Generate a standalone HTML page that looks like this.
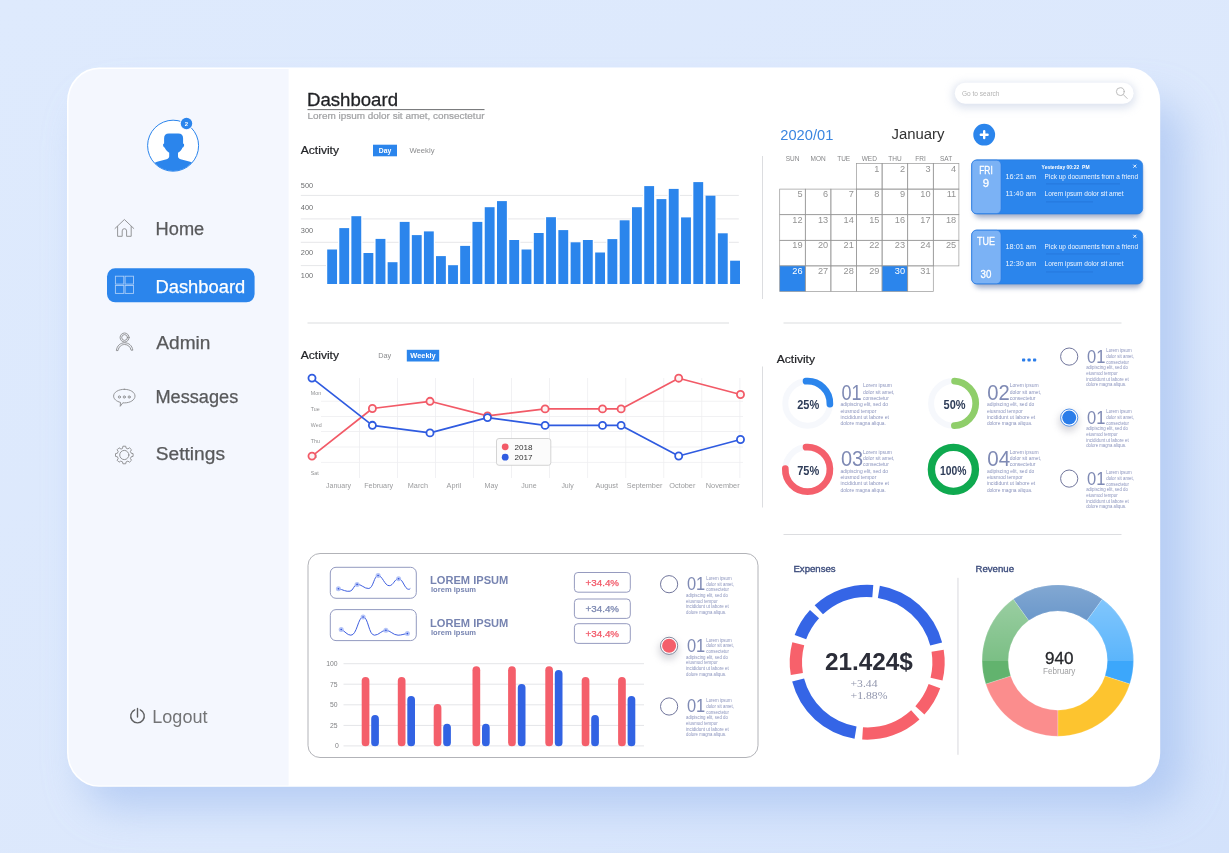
<!DOCTYPE html>
<html><head><meta charset="utf-8"><title>Dashboard</title>
<style>
html,body{margin:0;padding:0;}
body{width:1229px;height:853px;overflow:hidden;background:#dde9fd;font-family:"Liberation Sans",sans-serif;}
svg{position:absolute;left:0;top:0;display:block;will-change:transform;font-family:"Liberation Sans",sans-serif;}
</style></head><body>
<svg width="1229" height="853" viewBox="0 0 1229 853">
<defs>
<linearGradient id="bg" x1="0" y1="0" x2="1" y2="1"><stop offset="0" stop-color="#deeafd"/><stop offset="0.6" stop-color="#dce8fc"/><stop offset="1" stop-color="#d3e2fb"/></linearGradient>
<filter id="pshadow" x="-20%" y="-20%" width="150%" height="150%"><feGaussianBlur stdDeviation="20"/></filter>
<filter id="s1" x="-50%" y="-50%" width="200%" height="200%"><feGaussianBlur stdDeviation="3"/></filter>
<filter id="s1b" x="-50%" y="-100%" width="200%" height="300%"><feGaussianBlur stdDeviation="4.5"/></filter>
<filter id="s2b" x="-50%" y="-50%" width="200%" height="200%"><feGaussianBlur stdDeviation="2.8"/></filter>
<filter id="s1c" x="-100%" y="-100%" width="300%" height="300%"><feGaussianBlur stdDeviation="3.6"/></filter>
<filter id="s2" x="-50%" y="-50%" width="200%" height="200%"><feGaussianBlur stdDeviation="2"/></filter>
<clipPath id="panel"><rect x="68.5" y="69" width="1090.5" height="716.5" rx="31" ry="33"/></clipPath>
<clipPath id="avatar"><circle cx="173.1" cy="145.7" r="25.3"/></clipPath>
<linearGradient id="shade" gradientUnits="userSpaceOnUse" x1="0" y1="584.9" x2="0" y2="736.3"><stop offset="0" stop-color="#fff" stop-opacity="0.4"/><stop offset="0.5" stop-color="#fff" stop-opacity="0.16"/><stop offset="0.5" stop-color="#000" stop-opacity="0"/><stop offset="1" stop-color="#000" stop-opacity="0"/></linearGradient>
</defs>
<rect width="1229" height="853" fill="url(#bg)"/>
<rect x="84" y="102" width="1100" height="706" rx="34" fill="#a3bff0" opacity="0.66" filter="url(#pshadow)"/>
<rect x="67" y="67.5" width="1093.2" height="719.3" rx="32" ry="34" fill="#ffffff"/>
<rect x="67" y="67.5" width="221.6" height="719.5" fill="#f4f7fe" clip-path="url(#panel)"/>

<circle cx="173.1" cy="145.7" r="25.5" fill="#fff" stroke="#2b85ec" stroke-width="1"/>
<g clip-path="url(#avatar)" fill="#2b85ec">
<path d="M168.900 133.400h9.400c3.200 0 4.800 1.800 4.800 5v5.200c0.900 0.100 1.200 1 0.900 2.200c-0.300 1.100-0.800 1.700-1.500 1.800c-0.600 2.200-2.400 4-4.500 5.100v3.600c0 1.600 0.900 2.400 2.600 2.900l9.500 2.600c2.600 0.800 4.300 2 5.500 3.600v12h-44v-12c1.200-1.600 2.900-2.800 5.500-3.600l9.500-2.600c1.700-0.500 2.600-1.300 2.600-2.900v-3.600c-1.700-1.100-3.900-2.900-4.500-5.100c-0.700-0.100-1.200-0.700-1.500-1.800c-0.300-1.200 0-2.100 0.900-2.200v-5.200c0-3.200 1.600-5 4.800-5z"/>
</g>
<circle cx="186.5" cy="123.5" r="6.6" fill="#f4f7fe"/><circle cx="186.5" cy="123.5" r="5.7" fill="#2b85ec"/>
<text x="186.5" y="125.7" font-size="6" fill="#fff" font-weight="700" text-anchor="middle">2</text>
<g fill="none" stroke="#8a8b8d" stroke-width="0.9" stroke-linejoin="round" stroke-linecap="round">
<path d="M115 228.5l9.4-9 9.4 9M117.6 226.5v9.8h4.6v-5.4a2.2 2.2 0 0 1 4.4 0v5.4h4.6v-9.8"/>
<circle cx="124.6" cy="337.5" r="4.5"/><circle cx="124.6" cy="337.5" r="2.9"/>
<path d="M116.4 350.2c0.6-4.6 4-7.4 8.2-7.4s7.6 2.8 8.2 7.4l-1.7 0c-0.7-3.5-3.2-5.7-6.5-5.7s-5.8 2.2-6.5 5.7z"/>
<path d="M124.3 389.3c6 0 10.7 3 10.7 6.8s-4.700 6.800-10.700 6.800c-0.500 0-1 0-1.500-0.100l-2.600 3.500 0.300-3.900c-4-1-6.900-3.400-6.900-6.300 0-3.800 4.700-6.800 10.700-6.800z"/>
<circle cx="119.4" cy="397" r="1.1"/><circle cx="124.3" cy="397" r="1.1"/><circle cx="129.2" cy="397" r="1.1"/>
<path d="M122.52 448.13L122.91 446.21L125.69 446.21L126.08 448.13L127.90 448.88L129.53 447.80L131.50 449.77L130.42 451.40L131.17 453.22L133.09 453.61L133.09 456.39L131.17 456.78L130.42 458.60L131.50 460.23L129.53 462.20L127.90 461.12L126.08 461.87L125.69 463.79L122.91 463.79L122.52 461.87L120.70 461.12L119.07 462.20L117.10 460.23L118.18 458.60L117.43 456.78L115.51 456.39L115.51 453.61L117.43 453.22L118.18 451.40L117.10 449.77L119.07 447.80L120.70 448.88Z"/>
<circle cx="124.3" cy="455" r="4.6"/>
</g>
<rect x="107" y="268.3" width="147.6" height="34" rx="8.2" fill="#2b85ec"/>
<g fill="none" stroke="#a9cdf8" stroke-width="0.9">
<rect x="115.4" y="276.2" width="8.4" height="7.9"/>
<rect x="125.1" y="276.2" width="8.4" height="7.9"/>
<rect x="115.4" y="285.5" width="8.4" height="7.9"/>
<rect x="125.1" y="285.5" width="8.4" height="7.9"/>
</g>
<text x="155.6" y="234.9" font-size="17.6" fill="#58595b" textLength="48.6" lengthAdjust="spacingAndGlyphs" stroke="#58595b" stroke-width="0.25">Home</text>
<text x="155.5" y="292.5" font-size="17.6" fill="#ffffff" textLength="89.7" lengthAdjust="spacingAndGlyphs" stroke="#ffffff" stroke-width="0.25">Dashboard</text>
<text x="156.3" y="348.7" font-size="17.6" fill="#58595b" textLength="54.1" lengthAdjust="spacingAndGlyphs" stroke="#58595b" stroke-width="0.25">Admin</text>
<text x="155.5" y="403.4" font-size="17.6" fill="#58595b" textLength="82.7" lengthAdjust="spacingAndGlyphs" stroke="#58595b" stroke-width="0.25">Messages</text>
<text x="155.8" y="460" font-size="17.6" fill="#58595b" textLength="69.2" lengthAdjust="spacingAndGlyphs" stroke="#58595b" stroke-width="0.25">Settings</text>
<g fill="none" stroke="#5e5f61" stroke-width="1.4" stroke-linecap="round"><path d="M134.700 709.900a6.800 6.800 0 1 0 5.600 0M137.500 708.500v8.600"/></g>
<text x="152.3" y="722.7" font-size="17.5" fill="#737476" textLength="55.2" lengthAdjust="spacingAndGlyphs">Logout</text>
<text x="307" y="105.8" font-size="18.2" fill="#1f2024" textLength="91" lengthAdjust="spacingAndGlyphs" stroke="#1f2024" stroke-width="0.3">Dashboard</text>
<rect x="307.5" y="109.1" width="177" height="1" fill="#6d6e70"/>
<text x="307.5" y="118.9" font-size="9.6" fill="#a0a1a3" textLength="177" lengthAdjust="spacingAndGlyphs" stroke="#a0a1a3" stroke-width="0.2">Lorem ipsum dolor sit amet, consectetur</text>
<rect x="953" y="83" width="182" height="25" rx="11" fill="#b9c6de" opacity="0.5" filter="url(#s1b)"/>
<rect x="954.8" y="82.8" width="178.8" height="20.9" rx="10.45" fill="#fff"/>
<text x="962" y="95.5" font-size="6.3" fill="#b4b4b4" textLength="37.5" lengthAdjust="spacingAndGlyphs">Go to search</text>
<g fill="none" stroke="#b5b5b5" stroke-width="0.9" stroke-linecap="round"><circle cx="1120.3" cy="91.6" r="3.9"/><path d="M1123.2 94.500l4 4"/></g>
<text x="300.8" y="153.8" font-size="10.6" fill="#222327" textLength="38.2" lengthAdjust="spacingAndGlyphs" stroke="#222327" stroke-width="0.2">Activity</text>
<rect x="373" y="144.7" width="24" height="11.6" fill="#2b85ec"/>
<text x="385" y="153" font-size="7" fill="#fff" font-weight="700" text-anchor="middle" textLength="12.5" lengthAdjust="spacingAndGlyphs">Day</text>
<text x="409.5" y="152.8" font-size="7" fill="#8b8c8e" textLength="25" lengthAdjust="spacingAndGlyphs">Weekly</text>
<rect x="300.8" y="194.9" width="438" height="1" fill="#e6e7e9"/>
<rect x="300.8" y="218.4" width="438" height="1" fill="#e6e7e9"/>
<rect x="300.8" y="241.8" width="438" height="1" fill="#e6e7e9"/>
<rect x="300.8" y="265.1" width="438" height="1" fill="#e6e7e9"/>
<text x="300.8" y="187.7" font-size="7" fill="#6d6e70" textLength="12.3" lengthAdjust="spacingAndGlyphs">500</text>
<text x="300.8" y="210.3" font-size="7" fill="#6d6e70" textLength="12.3" lengthAdjust="spacingAndGlyphs">400</text>
<text x="300.8" y="232.8" font-size="7" fill="#6d6e70" textLength="12.3" lengthAdjust="spacingAndGlyphs">300</text>
<text x="300.8" y="255.4" font-size="7" fill="#6d6e70" textLength="12.3" lengthAdjust="spacingAndGlyphs">200</text>
<text x="300.8" y="278" font-size="7" fill="#6d6e70" textLength="12.3" lengthAdjust="spacingAndGlyphs">100</text>
<rect x="326.00" y="249.5" width="12.3" height="34.5" fill="#fff"/><rect x="327.20" y="249.5" width="9.85" height="34.5" fill="#2b85ec"/>
<rect x="338.09" y="228.1" width="12.3" height="55.9" fill="#fff"/><rect x="339.29" y="228.1" width="9.85" height="55.9" fill="#2b85ec"/>
<rect x="350.18" y="216.2" width="12.3" height="67.8" fill="#fff"/><rect x="351.38" y="216.2" width="9.85" height="67.8" fill="#2b85ec"/>
<rect x="362.27" y="253.0" width="12.3" height="31.0" fill="#fff"/><rect x="363.47" y="253.0" width="9.85" height="31.0" fill="#2b85ec"/>
<rect x="374.36" y="238.9" width="12.3" height="45.1" fill="#fff"/><rect x="375.56" y="238.9" width="9.85" height="45.1" fill="#2b85ec"/>
<rect x="386.45" y="262.2" width="12.3" height="21.8" fill="#fff"/><rect x="387.65" y="262.2" width="9.85" height="21.8" fill="#2b85ec"/>
<rect x="398.54" y="221.9" width="12.3" height="62.1" fill="#fff"/><rect x="399.74" y="221.9" width="9.85" height="62.1" fill="#2b85ec"/>
<rect x="410.63" y="235.1" width="12.3" height="48.9" fill="#fff"/><rect x="411.83" y="235.1" width="9.85" height="48.9" fill="#2b85ec"/>
<rect x="422.72" y="231.4" width="12.3" height="52.6" fill="#fff"/><rect x="423.92" y="231.4" width="9.85" height="52.6" fill="#2b85ec"/>
<rect x="434.81" y="256.1" width="12.3" height="27.9" fill="#fff"/><rect x="436.01" y="256.1" width="9.85" height="27.9" fill="#2b85ec"/>
<rect x="446.90" y="265.2" width="12.3" height="18.8" fill="#fff"/><rect x="448.10" y="265.2" width="9.85" height="18.8" fill="#2b85ec"/>
<rect x="458.99" y="245.9" width="12.3" height="38.1" fill="#fff"/><rect x="460.19" y="245.9" width="9.85" height="38.1" fill="#2b85ec"/>
<rect x="471.27" y="221.9" width="12.3" height="62.1" fill="#fff"/><rect x="472.47" y="221.9" width="9.85" height="62.1" fill="#2b85ec"/>
<rect x="483.54" y="207.2" width="12.3" height="76.8" fill="#fff"/><rect x="484.74" y="207.2" width="9.85" height="76.8" fill="#2b85ec"/>
<rect x="495.81" y="201.1" width="12.3" height="82.9" fill="#fff"/><rect x="497.01" y="201.1" width="9.85" height="82.9" fill="#2b85ec"/>
<rect x="508.08" y="240.0" width="12.3" height="44.0" fill="#fff"/><rect x="509.28" y="240.0" width="9.85" height="44.0" fill="#2b85ec"/>
<rect x="520.35" y="249.5" width="12.3" height="34.5" fill="#fff"/><rect x="521.55" y="249.5" width="9.85" height="34.5" fill="#2b85ec"/>
<rect x="532.62" y="233.0" width="12.3" height="51.0" fill="#fff"/><rect x="533.82" y="233.0" width="9.85" height="51.0" fill="#2b85ec"/>
<rect x="544.89" y="217.2" width="12.3" height="66.8" fill="#fff"/><rect x="546.09" y="217.2" width="9.85" height="66.8" fill="#2b85ec"/>
<rect x="557.16" y="230.1" width="12.3" height="53.9" fill="#fff"/><rect x="558.36" y="230.1" width="9.85" height="53.9" fill="#2b85ec"/>
<rect x="569.43" y="242.3" width="12.3" height="41.7" fill="#fff"/><rect x="570.63" y="242.3" width="9.85" height="41.7" fill="#2b85ec"/>
<rect x="581.70" y="240.0" width="12.3" height="44.0" fill="#fff"/><rect x="582.90" y="240.0" width="9.85" height="44.0" fill="#2b85ec"/>
<rect x="593.97" y="252.5" width="12.3" height="31.5" fill="#fff"/><rect x="595.17" y="252.5" width="9.85" height="31.5" fill="#2b85ec"/>
<rect x="606.24" y="239.1" width="12.3" height="44.9" fill="#fff"/><rect x="607.44" y="239.1" width="9.85" height="44.9" fill="#2b85ec"/>
<rect x="618.51" y="220.3" width="12.3" height="63.7" fill="#fff"/><rect x="619.71" y="220.3" width="9.85" height="63.7" fill="#2b85ec"/>
<rect x="630.78" y="207.2" width="12.3" height="76.8" fill="#fff"/><rect x="631.98" y="207.2" width="9.85" height="76.8" fill="#2b85ec"/>
<rect x="643.05" y="186.1" width="12.3" height="97.9" fill="#fff"/><rect x="644.25" y="186.1" width="9.85" height="97.9" fill="#2b85ec"/>
<rect x="655.32" y="199.1" width="12.3" height="84.9" fill="#fff"/><rect x="656.52" y="199.1" width="9.85" height="84.9" fill="#2b85ec"/>
<rect x="667.59" y="188.9" width="12.3" height="95.1" fill="#fff"/><rect x="668.79" y="188.9" width="9.85" height="95.1" fill="#2b85ec"/>
<rect x="679.86" y="217.4" width="12.3" height="66.6" fill="#fff"/><rect x="681.06" y="217.4" width="9.85" height="66.6" fill="#2b85ec"/>
<rect x="692.13" y="182.1" width="12.3" height="101.9" fill="#fff"/><rect x="693.33" y="182.1" width="9.85" height="101.9" fill="#2b85ec"/>
<rect x="704.40" y="195.7" width="12.3" height="88.3" fill="#fff"/><rect x="705.60" y="195.7" width="9.85" height="88.3" fill="#2b85ec"/>
<rect x="716.67" y="233.3" width="12.3" height="50.7" fill="#fff"/><rect x="717.87" y="233.3" width="9.85" height="50.7" fill="#2b85ec"/>
<rect x="728.94" y="260.7" width="12.3" height="23.3" fill="#fff"/><rect x="730.14" y="260.7" width="9.85" height="23.3" fill="#2b85ec"/>
<rect x="307.5" y="322.5" width="421.5" height="1" fill="#dcdde0"/>
<rect x="783.5" y="322.5" width="338" height="1" fill="#dcdde0"/>
<rect x="783.5" y="534" width="338" height="1" fill="#dcdde0"/>
<rect x="762" y="156" width="1" height="143" fill="#dcdde0"/>
<rect x="762" y="366.5" width="1" height="141" fill="#dcdde0"/>
<rect x="957.3" y="577.8" width="1.3" height="177" fill="#e2e2e5"/>
<text x="780.3" y="140.3" font-size="14.8" fill="#3b86e0" textLength="53" lengthAdjust="spacingAndGlyphs">2020/01</text>
<text x="891.5" y="139" font-size="15.4" fill="#333333" textLength="53" lengthAdjust="spacingAndGlyphs">January</text>
<text x="792.5" y="160.8" font-size="6.5" fill="#858688" text-anchor="middle">SUN</text>
<text x="818.1" y="160.8" font-size="6.5" fill="#858688" text-anchor="middle">MON</text>
<text x="843.7" y="160.8" font-size="6.5" fill="#858688" text-anchor="middle">TUE</text>
<text x="869.3" y="160.8" font-size="6.5" fill="#858688" text-anchor="middle">WED</text>
<text x="894.9" y="160.8" font-size="6.5" fill="#858688" text-anchor="middle">THU</text>
<text x="920.5" y="160.8" font-size="6.5" fill="#858688" text-anchor="middle">FRI</text>
<text x="946.1" y="160.8" font-size="6.5" fill="#858688" text-anchor="middle">SAT</text>
<g fill="none" stroke="#989898" stroke-width="0.7">
<rect x="856.5" y="163.5" width="25.6" height="25.6" fill="none"/>
<rect x="882.1" y="163.5" width="25.6" height="25.6" fill="none"/>
<rect x="907.7" y="163.5" width="25.6" height="25.6" fill="none"/>
<rect x="933.3" y="163.5" width="25.6" height="25.6" fill="none"/>
<rect x="779.7" y="189.1" width="25.6" height="25.6" fill="none"/>
<rect x="805.3" y="189.1" width="25.6" height="25.6" fill="none"/>
<rect x="830.9" y="189.1" width="25.6" height="25.6" fill="none"/>
<rect x="856.5" y="189.1" width="25.6" height="25.6" fill="none"/>
<rect x="882.1" y="189.1" width="25.6" height="25.6" fill="none"/>
<rect x="907.7" y="189.1" width="25.6" height="25.6" fill="none"/>
<rect x="933.3" y="189.1" width="25.6" height="25.6" fill="none"/>
<rect x="779.7" y="214.7" width="25.6" height="25.6" fill="none"/>
<rect x="805.3" y="214.7" width="25.6" height="25.6" fill="none"/>
<rect x="830.9" y="214.7" width="25.6" height="25.6" fill="none"/>
<rect x="856.5" y="214.7" width="25.6" height="25.6" fill="none"/>
<rect x="882.1" y="214.7" width="25.6" height="25.6" fill="none"/>
<rect x="907.7" y="214.7" width="25.6" height="25.6" fill="none"/>
<rect x="933.3" y="214.7" width="25.6" height="25.6" fill="none"/>
<rect x="779.7" y="240.3" width="25.6" height="25.6" fill="none"/>
<rect x="805.3" y="240.3" width="25.6" height="25.6" fill="none"/>
<rect x="830.9" y="240.3" width="25.6" height="25.6" fill="none"/>
<rect x="856.5" y="240.3" width="25.6" height="25.6" fill="none"/>
<rect x="882.1" y="240.3" width="25.6" height="25.6" fill="none"/>
<rect x="907.7" y="240.3" width="25.6" height="25.6" fill="none"/>
<rect x="933.3" y="240.3" width="25.6" height="25.6" fill="none"/>
<rect x="779.7" y="265.9" width="25.6" height="25.6" fill="#2b85ec"/>
<rect x="805.3" y="265.9" width="25.6" height="25.6" fill="none"/>
<rect x="830.9" y="265.9" width="25.6" height="25.6" fill="none"/>
<rect x="856.5" y="265.9" width="25.6" height="25.6" fill="none"/>
<rect x="882.1" y="265.9" width="25.6" height="25.6" fill="#2b85ec"/>
<rect x="907.7" y="265.9" width="25.6" height="25.6" fill="none"/>
</g>
<text x="879.4" y="171.6" font-size="9.2" fill="#939393" text-anchor="end">1</text>
<text x="905.0" y="171.6" font-size="9.2" fill="#939393" text-anchor="end">2</text>
<text x="930.6" y="171.6" font-size="9.2" fill="#939393" text-anchor="end">3</text>
<text x="956.2" y="171.6" font-size="9.2" fill="#939393" text-anchor="end">4</text>
<text x="802.6" y="197.2" font-size="9.2" fill="#939393" text-anchor="end">5</text>
<text x="828.2" y="197.2" font-size="9.2" fill="#939393" text-anchor="end">6</text>
<text x="853.8" y="197.2" font-size="9.2" fill="#939393" text-anchor="end">7</text>
<text x="879.4" y="197.2" font-size="9.2" fill="#939393" text-anchor="end">8</text>
<text x="905.0" y="197.2" font-size="9.2" fill="#939393" text-anchor="end">9</text>
<text x="930.6" y="197.2" font-size="9.2" fill="#939393" text-anchor="end">10</text>
<text x="956.2" y="197.2" font-size="9.2" fill="#939393" text-anchor="end">11</text>
<text x="802.6" y="222.8" font-size="9.2" fill="#939393" text-anchor="end">12</text>
<text x="828.2" y="222.8" font-size="9.2" fill="#939393" text-anchor="end">13</text>
<text x="853.8" y="222.8" font-size="9.2" fill="#939393" text-anchor="end">14</text>
<text x="879.4" y="222.8" font-size="9.2" fill="#939393" text-anchor="end">15</text>
<text x="905.0" y="222.8" font-size="9.2" fill="#939393" text-anchor="end">16</text>
<text x="930.6" y="222.8" font-size="9.2" fill="#939393" text-anchor="end">17</text>
<text x="956.2" y="222.8" font-size="9.2" fill="#939393" text-anchor="end">18</text>
<text x="802.6" y="248.4" font-size="9.2" fill="#939393" text-anchor="end">19</text>
<text x="828.2" y="248.4" font-size="9.2" fill="#939393" text-anchor="end">20</text>
<text x="853.8" y="248.4" font-size="9.2" fill="#939393" text-anchor="end">21</text>
<text x="879.4" y="248.4" font-size="9.2" fill="#939393" text-anchor="end">22</text>
<text x="905.0" y="248.4" font-size="9.2" fill="#939393" text-anchor="end">23</text>
<text x="930.6" y="248.4" font-size="9.2" fill="#939393" text-anchor="end">24</text>
<text x="956.2" y="248.4" font-size="9.2" fill="#939393" text-anchor="end">25</text>
<text x="802.6" y="274.0" font-size="9.2" fill="#fff" text-anchor="end">26</text>
<text x="828.2" y="274.0" font-size="9.2" fill="#939393" text-anchor="end">27</text>
<text x="853.8" y="274.0" font-size="9.2" fill="#939393" text-anchor="end">28</text>
<text x="879.4" y="274.0" font-size="9.2" fill="#939393" text-anchor="end">29</text>
<text x="905.0" y="274.0" font-size="9.2" fill="#fff" text-anchor="end">30</text>
<text x="930.6" y="274.0" font-size="9.2" fill="#939393" text-anchor="end">31</text>
<circle cx="984.2" cy="134.7" r="10.9" fill="#2b85ec"/>
<path d="M980.800 134.700h6.800M984.200 131.300v6.800" stroke="#fff" stroke-width="2.4" stroke-linecap="round"/>
<rect x="974" y="163.8" width="168" height="54.2" rx="6" fill="#7f90b5" opacity="0.7" filter="url(#s2b)"/>
<rect x="971.5" y="159.8" width="171.2" height="54.2" rx="5.5" fill="#2b85ec" stroke="#2477da" stroke-width="0.6"/>
<rect x="971.8" y="160.20000000000002" width="29.2" height="53.400000000000006" rx="4.6" fill="#7bb2f5" stroke="#2c7be0" stroke-width="0.6"/>
<text x="986" y="173.70000000000002" font-size="11.4" fill="#fff" text-anchor="middle" textLength="13.5" lengthAdjust="spacingAndGlyphs" stroke="#fff" stroke-width="0.3">FRI</text>
<text x="986" y="186.9" font-size="11.4" fill="#fff" text-anchor="middle" stroke="#fff" stroke-width="0.3">9</text>
<text x="1041.6" y="169.10000000000002" font-size="4.8" fill="#fff" font-weight="700" textLength="48" lengthAdjust="spacingAndGlyphs">Yesterday 00:22&#160;&#160;PM</text>
<path d="M1133.3 164.70000000000002l3 3m0-3l-3 3" stroke="#fff" stroke-width="0.9"/>
<text x="1005.5" y="178.8" font-size="7" fill="#f0f6fe" textLength="30.5" lengthAdjust="spacingAndGlyphs">16:21 am</text>
<text x="1044.6" y="178.8" font-size="6.6" fill="#f0f6fe" textLength="93.5" lengthAdjust="spacingAndGlyphs">Pick up documents from a friend</text>
<text x="1005.5" y="195.8" font-size="7" fill="#f0f6fe" textLength="30.5" lengthAdjust="spacingAndGlyphs">11:40 am</text>
<text x="1044.6" y="195.8" font-size="6.6" fill="#f0f6fe" textLength="79" lengthAdjust="spacingAndGlyphs">Lorem ipsum dolor sit amet</text>
<rect x="1046" y="183.4" width="74" height="0.9" fill="#1c64c8" opacity="0.45"/>
<rect x="1046" y="201.4" width="47" height="0.9" fill="#1c64c8" opacity="0.45"/>
<rect x="974" y="233.9" width="168" height="54.2" rx="6" fill="#7f90b5" opacity="0.7" filter="url(#s2b)"/>
<rect x="971.5" y="229.9" width="171.2" height="54.2" rx="5.5" fill="#2b85ec" stroke="#2477da" stroke-width="0.6"/>
<rect x="971.8" y="230.3" width="29.2" height="53.400000000000006" rx="4.6" fill="#7bb2f5" stroke="#2c7be0" stroke-width="0.6"/>
<text x="986" y="244.70000000000002" font-size="11.4" fill="#fff" text-anchor="middle" textLength="18" lengthAdjust="spacingAndGlyphs" stroke="#fff" stroke-width="0.3">TUE</text>
<text x="986" y="277.5" font-size="11.4" fill="#fff" text-anchor="middle" textLength="10.8" lengthAdjust="spacingAndGlyphs" stroke="#fff" stroke-width="0.3">30</text>
<path d="M1133.3 234.8l3 3m0-3l-3 3" stroke="#fff" stroke-width="0.9"/>
<text x="1005.5" y="248.9" font-size="7" fill="#f0f6fe" textLength="30.5" lengthAdjust="spacingAndGlyphs">18:01 am</text>
<text x="1044.6" y="248.9" font-size="6.6" fill="#f0f6fe" textLength="93.5" lengthAdjust="spacingAndGlyphs">Pick up documents from a friend</text>
<text x="1005.5" y="265.9" font-size="7" fill="#f0f6fe" textLength="30.5" lengthAdjust="spacingAndGlyphs">12:30 am</text>
<text x="1044.6" y="265.9" font-size="6.6" fill="#f0f6fe" textLength="79" lengthAdjust="spacingAndGlyphs">Lorem ipsum dolor sit amet</text>
<rect x="1046" y="253.5" width="74" height="0.9" fill="#1c64c8" opacity="0.45"/>
<rect x="1046" y="271.5" width="47" height="0.9" fill="#1c64c8" opacity="0.45"/>
<text x="300.8" y="358.7" font-size="10.6" fill="#222327" textLength="38.2" lengthAdjust="spacingAndGlyphs" stroke="#222327" stroke-width="0.2">Activity</text>
<text x="378.2" y="357.8" font-size="7" fill="#8b8c8e" textLength="13" lengthAdjust="spacingAndGlyphs">Day</text>
<rect x="406.8" y="349.8" width="32.4" height="11.7" fill="#2b85ec"/>
<text x="423" y="358" font-size="7" fill="#fff" font-weight="700" text-anchor="middle" textLength="25.5" lengthAdjust="spacingAndGlyphs">Weekly</text>
<rect x="359.0" y="378" width="0.8" height="100" fill="#eeeef1"/>
<rect x="397.1" y="378" width="0.8" height="100" fill="#eeeef1"/>
<rect x="435.1" y="378" width="0.8" height="100" fill="#eeeef1"/>
<rect x="473.1" y="378" width="0.8" height="100" fill="#eeeef1"/>
<rect x="511.2" y="378" width="0.8" height="100" fill="#eeeef1"/>
<rect x="549.2" y="378" width="0.8" height="100" fill="#eeeef1"/>
<rect x="587.3" y="378" width="0.8" height="100" fill="#eeeef1"/>
<rect x="625.4" y="378" width="0.8" height="100" fill="#eeeef1"/>
<rect x="663.4" y="378" width="0.8" height="100" fill="#eeeef1"/>
<rect x="701.4" y="378" width="0.8" height="100" fill="#eeeef1"/>
<rect x="739.5" y="378" width="0.8" height="100" fill="#eeeef1"/>
<rect x="321" y="400.8" width="422" height="0.8" fill="#eeeef1"/>
<rect x="321" y="416.0" width="422" height="0.8" fill="#eeeef1"/>
<rect x="321" y="431.20000000000005" width="422" height="0.8" fill="#eeeef1"/>
<rect x="321" y="446.6" width="422" height="0.8" fill="#eeeef1"/>
<rect x="321" y="461.90000000000003" width="422" height="0.8" fill="#eeeef1"/>
<text x="310.8" y="394.8" font-size="5.3" fill="#909193">Mon</text>
<text x="310.8" y="411.0" font-size="5.3" fill="#909193">Tue</text>
<text x="310.8" y="426.8" font-size="5.3" fill="#909193">Wed</text>
<text x="310.8" y="442.8" font-size="5.3" fill="#909193">Thu</text>
<text x="310.8" y="457.8" font-size="5.3" fill="#909193">Fri</text>
<text x="310.8" y="474.8" font-size="5.3" fill="#909193">Sat</text>
<text x="326" y="488.3" font-size="7.6" fill="#9a9b9d" textLength="25" lengthAdjust="spacingAndGlyphs">January</text>
<text x="364.2" y="488.3" font-size="7.6" fill="#9a9b9d" textLength="29" lengthAdjust="spacingAndGlyphs">February</text>
<text x="407.8" y="488.3" font-size="7.6" fill="#9a9b9d" textLength="20.2" lengthAdjust="spacingAndGlyphs">March</text>
<text x="446.5" y="488.3" font-size="7.6" fill="#9a9b9d" textLength="14.7" lengthAdjust="spacingAndGlyphs">April</text>
<text x="484.6" y="488.3" font-size="7.6" fill="#9a9b9d" textLength="13.5" lengthAdjust="spacingAndGlyphs">May</text>
<text x="521.3" y="488.3" font-size="7.6" fill="#9a9b9d" textLength="15.3" lengthAdjust="spacingAndGlyphs">June</text>
<text x="561.4" y="488.3" font-size="7.6" fill="#9a9b9d" textLength="12.3" lengthAdjust="spacingAndGlyphs">July</text>
<text x="595.4" y="488.3" font-size="7.6" fill="#9a9b9d" textLength="22.6" lengthAdjust="spacingAndGlyphs">August</text>
<text x="626.8" y="488.3" font-size="7.6" fill="#9a9b9d" textLength="35.6" lengthAdjust="spacingAndGlyphs">September</text>
<text x="669.2" y="488.3" font-size="7.6" fill="#9a9b9d" textLength="26.2" lengthAdjust="spacingAndGlyphs">October</text>
<text x="705.8" y="488.3" font-size="7.6" fill="#9a9b9d" textLength="33.8" lengthAdjust="spacingAndGlyphs">November</text>
<rect x="496.5" y="438.5" width="54.3" height="26.8" rx="2.5" fill="#fbfbfb" stroke="#c9c9c9" stroke-width="0.8"/>
<circle cx="505.2" cy="446.8" r="3.4" fill="#f25a67"/><circle cx="505.2" cy="457.2" r="3.4" fill="#2f5be0"/>
<text x="514.5" y="449.6" font-size="8" fill="#333" textLength="18" lengthAdjust="spacingAndGlyphs">2018</text>
<text x="514.5" y="460.1" font-size="8" fill="#333" textLength="18" lengthAdjust="spacingAndGlyphs">2017</text>
<polyline points="312,456.1 372.4,408.5 430,401.3 487.5,415.9 545.1,408.9 602.5,408.9 621.1,408.9 678.7,378.2 740.5,394.5" fill="none" stroke="#f25a67" stroke-width="1.7" stroke-linejoin="round"/>
<polyline points="312,378.1 372.4,425.3 430,432.9 487.5,417.6 545.1,425.4 602.5,425.4 621.1,425.4 678.7,456 740.5,439.5" fill="none" stroke="#2f5be0" stroke-width="1.7" stroke-linejoin="round"/>
<circle cx="312" cy="456.1" r="3.55" fill="#fdf3f3" stroke="#f25a67" stroke-width="1.8"/>
<circle cx="372.4" cy="408.5" r="3.55" fill="#fdf3f3" stroke="#f25a67" stroke-width="1.8"/>
<circle cx="430" cy="401.3" r="3.55" fill="#fdf3f3" stroke="#f25a67" stroke-width="1.8"/>
<circle cx="487.5" cy="415.9" r="3.55" fill="#fdf3f3" stroke="#f25a67" stroke-width="1.8"/>
<circle cx="545.1" cy="408.9" r="3.55" fill="#fdf3f3" stroke="#f25a67" stroke-width="1.8"/>
<circle cx="602.5" cy="408.9" r="3.55" fill="#fdf3f3" stroke="#f25a67" stroke-width="1.8"/>
<circle cx="621.1" cy="408.9" r="3.55" fill="#fdf3f3" stroke="#f25a67" stroke-width="1.8"/>
<circle cx="678.7" cy="378.2" r="3.55" fill="#fdf3f3" stroke="#f25a67" stroke-width="1.8"/>
<circle cx="740.5" cy="394.5" r="3.55" fill="#fdf3f3" stroke="#f25a67" stroke-width="1.8"/>
<circle cx="312" cy="378.1" r="3.55" fill="#fff" stroke="#2f5be0" stroke-width="1.8"/>
<circle cx="372.4" cy="425.3" r="3.55" fill="#fff" stroke="#2f5be0" stroke-width="1.8"/>
<circle cx="430" cy="432.9" r="3.55" fill="#fff" stroke="#2f5be0" stroke-width="1.8"/>
<circle cx="487.5" cy="417.6" r="3.55" fill="#fff" stroke="#2f5be0" stroke-width="1.8"/>
<circle cx="545.1" cy="425.4" r="3.55" fill="#fff" stroke="#2f5be0" stroke-width="1.8"/>
<circle cx="602.5" cy="425.4" r="3.55" fill="#fff" stroke="#2f5be0" stroke-width="1.8"/>
<circle cx="621.1" cy="425.4" r="3.55" fill="#fff" stroke="#2f5be0" stroke-width="1.8"/>
<circle cx="678.7" cy="456" r="3.55" fill="#fff" stroke="#2f5be0" stroke-width="1.8"/>
<circle cx="740.5" cy="439.5" r="3.55" fill="#fff" stroke="#2f5be0" stroke-width="1.8"/>
<text x="776.8" y="363.2" font-size="10.6" fill="#222327" textLength="38.2" lengthAdjust="spacingAndGlyphs" stroke="#222327" stroke-width="0.2">Activity</text>
<rect x="1022.0" y="358.4" width="3.2" height="3.2" rx="0.8" fill="#2b7de9"/>
<rect x="1027.5" y="358.4" width="3.2" height="3.2" rx="0.8" fill="#2b7de9"/>
<rect x="1033.0" y="358.4" width="3.2" height="3.2" rx="0.8" fill="#2b7de9"/>
<circle cx="807.6" cy="403.4" r="22.3" fill="none" stroke="#f6f8fc" stroke-width="6"/>
<path d="M806.04 381.15A22.3 22.3 0 0 1 829.89 404.18" fill="none" stroke="#2b85ec" stroke-width="6.7" stroke-linecap="round"/>
<text x="808.2" y="408.5" font-size="12.4" fill="#2f3d59" font-weight="700" text-anchor="middle" textLength="22" lengthAdjust="spacingAndGlyphs">25%</text>
<circle cx="953.4" cy="403.4" r="22.3" fill="none" stroke="#f6f8fc" stroke-width="6"/>
<path d="M954.57 381.13A22.3 22.3 0 0 1 954.37 425.68" fill="none" stroke="#8fce6a" stroke-width="6.7" stroke-linecap="round"/>
<text x="954.6" y="408.5" font-size="12.4" fill="#2f3d59" font-weight="700" text-anchor="middle" textLength="22" lengthAdjust="spacingAndGlyphs">50%</text>
<circle cx="807.6" cy="469.4" r="22.3" fill="none" stroke="#f6f8fc" stroke-width="6"/>
<path d="M806.04 447.15A22.3 22.3 0 1 1 785.31 468.62" fill="none" stroke="#f4606c" stroke-width="6.7" stroke-linecap="round"/>
<text x="808.2" y="474.5" font-size="12.4" fill="#2f3d59" font-weight="700" text-anchor="middle" textLength="22" lengthAdjust="spacingAndGlyphs">75%</text>
<circle cx="953.4" cy="469.4" r="22.3" fill="none" stroke="#f6f8fc" stroke-width="6"/>
<circle cx="953.4" cy="469.4" r="22.0" fill="none" stroke="#0fa94f" stroke-width="7.4"/>
<text x="953.2" y="474.5" font-size="12.4" fill="#2f3d59" font-weight="700" text-anchor="middle" textLength="26.5" lengthAdjust="spacingAndGlyphs">100%</text>
<text x="841.4" y="399.908" font-size="21.4" fill="#7f8ab4" textLength="20.1" lengthAdjust="spacingAndGlyphs">01</text>
<text x="863.0" y="387.3" font-size="5.1" fill="#8a93bd" textLength="28.9" lengthAdjust="spacingAndGlyphs">Lorem ipsum</text>
<text x="863.0" y="393.6" font-size="5.1" fill="#8a93bd" textLength="31.5" lengthAdjust="spacingAndGlyphs">dolor sit amet,</text>
<text x="863.0" y="399.9" font-size="5.1" fill="#8a93bd" textLength="25.8" lengthAdjust="spacingAndGlyphs">consectetur</text>
<text x="840.6" y="406.3" font-size="5.1" fill="#8a93bd" textLength="47.4" lengthAdjust="spacingAndGlyphs">adipiscing elit, sed do</text>
<text x="840.6" y="412.6" font-size="5.1" fill="#8a93bd" textLength="35.7" lengthAdjust="spacingAndGlyphs">eiusmod tempor</text>
<text x="840.6" y="418.9" font-size="5.1" fill="#8a93bd" textLength="48.3" lengthAdjust="spacingAndGlyphs">incididunt ut labore et</text>
<text x="840.6" y="425.3" font-size="5.1" fill="#8a93bd" textLength="45.3" lengthAdjust="spacingAndGlyphs">dolore magna aliqua.</text>
<text x="987.1999999999999" y="399.908" font-size="21.4" fill="#7f8ab4" textLength="22.5" lengthAdjust="spacingAndGlyphs">02</text>
<text x="1009.7" y="387.3" font-size="5.1" fill="#8a93bd" textLength="28.9" lengthAdjust="spacingAndGlyphs">Lorem ipsum</text>
<text x="1009.7" y="393.6" font-size="5.1" fill="#8a93bd" textLength="31.5" lengthAdjust="spacingAndGlyphs">dolor sit amet,</text>
<text x="1009.7" y="399.9" font-size="5.1" fill="#8a93bd" textLength="25.8" lengthAdjust="spacingAndGlyphs">consectetur</text>
<text x="986.9" y="406.3" font-size="5.1" fill="#8a93bd" textLength="47.4" lengthAdjust="spacingAndGlyphs">adipiscing elit, sed do</text>
<text x="986.9" y="412.6" font-size="5.1" fill="#8a93bd" textLength="35.7" lengthAdjust="spacingAndGlyphs">eiusmod tempor</text>
<text x="986.9" y="418.9" font-size="5.1" fill="#8a93bd" textLength="48.3" lengthAdjust="spacingAndGlyphs">incididunt ut labore et</text>
<text x="986.9" y="425.3" font-size="5.1" fill="#8a93bd" textLength="45.3" lengthAdjust="spacingAndGlyphs">dolore magna aliqua.</text>
<text x="841.0" y="466.20799999999997" font-size="21.4" fill="#7f8ab4" textLength="22.2" lengthAdjust="spacingAndGlyphs">03</text>
<text x="863.0" y="453.6" font-size="5.1" fill="#8a93bd" textLength="28.9" lengthAdjust="spacingAndGlyphs">Lorem ipsum</text>
<text x="863.0" y="459.9" font-size="5.1" fill="#8a93bd" textLength="31.5" lengthAdjust="spacingAndGlyphs">dolor sit amet,</text>
<text x="863.0" y="466.2" font-size="5.1" fill="#8a93bd" textLength="25.8" lengthAdjust="spacingAndGlyphs">consectetur</text>
<text x="840.6" y="472.6" font-size="5.1" fill="#8a93bd" textLength="47.4" lengthAdjust="spacingAndGlyphs">adipiscing elit, sed do</text>
<text x="840.6" y="478.9" font-size="5.1" fill="#8a93bd" textLength="35.7" lengthAdjust="spacingAndGlyphs">eiusmod tempor</text>
<text x="840.6" y="485.2" font-size="5.1" fill="#8a93bd" textLength="48.3" lengthAdjust="spacingAndGlyphs">incididunt ut labore et</text>
<text x="840.6" y="491.6" font-size="5.1" fill="#8a93bd" textLength="45.3" lengthAdjust="spacingAndGlyphs">dolore magna aliqua.</text>
<text x="987.1999999999999" y="466.20799999999997" font-size="21.4" fill="#7f8ab4" textLength="22.9" lengthAdjust="spacingAndGlyphs">04</text>
<text x="1009.7" y="453.6" font-size="5.1" fill="#8a93bd" textLength="28.9" lengthAdjust="spacingAndGlyphs">Lorem ipsum</text>
<text x="1009.7" y="459.9" font-size="5.1" fill="#8a93bd" textLength="31.5" lengthAdjust="spacingAndGlyphs">dolor sit amet,</text>
<text x="1009.7" y="466.2" font-size="5.1" fill="#8a93bd" textLength="25.8" lengthAdjust="spacingAndGlyphs">consectetur</text>
<text x="986.9" y="472.6" font-size="5.1" fill="#8a93bd" textLength="47.4" lengthAdjust="spacingAndGlyphs">adipiscing elit, sed do</text>
<text x="986.9" y="478.9" font-size="5.1" fill="#8a93bd" textLength="35.7" lengthAdjust="spacingAndGlyphs">eiusmod tempor</text>
<text x="986.9" y="485.2" font-size="5.1" fill="#8a93bd" textLength="48.3" lengthAdjust="spacingAndGlyphs">incididunt ut labore et</text>
<text x="986.9" y="491.6" font-size="5.1" fill="#8a93bd" textLength="45.3" lengthAdjust="spacingAndGlyphs">dolore magna aliqua.</text>
<circle cx="1069.2" cy="356.6" r="8.6" fill="#fff" stroke="#71769c" stroke-width="1"/>
<circle cx="1068.7" cy="421.6" r="10.1" fill="#a9a9b4" opacity="0.45" filter="url(#s1c)"/>
<circle cx="1069.2" cy="417.6" r="8.6" fill="#fff" stroke="#3f86e6" stroke-width="0.9"/>
<circle cx="1069.2" cy="417.6" r="7.0" fill="#2b7de9"/>
<circle cx="1069.2" cy="478.6" r="8.6" fill="#fff" stroke="#71769c" stroke-width="1"/>
<text x="1087.0" y="362.632" font-size="18.1" fill="#7f8ab4" textLength="18.4" lengthAdjust="spacingAndGlyphs">01</text>
<text x="1106.2" y="352.2" font-size="4.5" fill="#8a93bd" textLength="25.5" lengthAdjust="spacingAndGlyphs">Lorem ipsum</text>
<text x="1106.2" y="357.9" font-size="4.5" fill="#8a93bd" textLength="27.8" lengthAdjust="spacingAndGlyphs">dolor sit amet,</text>
<text x="1106.2" y="363.5" font-size="4.5" fill="#8a93bd" textLength="22.8" lengthAdjust="spacingAndGlyphs">consectetur</text>
<text x="1086.2" y="369.2" font-size="4.5" fill="#8a93bd" textLength="41.8" lengthAdjust="spacingAndGlyphs">adipiscing elit, sed do</text>
<text x="1086.2" y="374.8" font-size="4.5" fill="#8a93bd" textLength="31.5" lengthAdjust="spacingAndGlyphs">eiusmod tempor</text>
<text x="1086.2" y="380.5" font-size="4.5" fill="#8a93bd" textLength="42.6" lengthAdjust="spacingAndGlyphs">incididunt ut labore et</text>
<text x="1086.2" y="386.1" font-size="4.5" fill="#8a93bd" textLength="40.0" lengthAdjust="spacingAndGlyphs">dolore magna aliqua.</text>
<text x="1087.0" y="423.632" font-size="18.1" fill="#7f8ab4" textLength="18.4" lengthAdjust="spacingAndGlyphs">01</text>
<text x="1106.2" y="413.2" font-size="4.5" fill="#8a93bd" textLength="25.5" lengthAdjust="spacingAndGlyphs">Lorem ipsum</text>
<text x="1106.2" y="418.9" font-size="4.5" fill="#8a93bd" textLength="27.8" lengthAdjust="spacingAndGlyphs">dolor sit amet,</text>
<text x="1106.2" y="424.5" font-size="4.5" fill="#8a93bd" textLength="22.8" lengthAdjust="spacingAndGlyphs">consectetur</text>
<text x="1086.2" y="430.2" font-size="4.5" fill="#8a93bd" textLength="41.8" lengthAdjust="spacingAndGlyphs">adipiscing elit, sed do</text>
<text x="1086.2" y="435.8" font-size="4.5" fill="#8a93bd" textLength="31.5" lengthAdjust="spacingAndGlyphs">eiusmod tempor</text>
<text x="1086.2" y="441.5" font-size="4.5" fill="#8a93bd" textLength="42.6" lengthAdjust="spacingAndGlyphs">incididunt ut labore et</text>
<text x="1086.2" y="447.1" font-size="4.5" fill="#8a93bd" textLength="40.0" lengthAdjust="spacingAndGlyphs">dolore magna aliqua.</text>
<text x="1087.0" y="484.632" font-size="18.1" fill="#7f8ab4" textLength="18.4" lengthAdjust="spacingAndGlyphs">01</text>
<text x="1106.2" y="474.2" font-size="4.5" fill="#8a93bd" textLength="25.5" lengthAdjust="spacingAndGlyphs">Lorem ipsum</text>
<text x="1106.2" y="479.9" font-size="4.5" fill="#8a93bd" textLength="27.8" lengthAdjust="spacingAndGlyphs">dolor sit amet,</text>
<text x="1106.2" y="485.5" font-size="4.5" fill="#8a93bd" textLength="22.8" lengthAdjust="spacingAndGlyphs">consectetur</text>
<text x="1086.2" y="491.2" font-size="4.5" fill="#8a93bd" textLength="41.8" lengthAdjust="spacingAndGlyphs">adipiscing elit, sed do</text>
<text x="1086.2" y="496.8" font-size="4.5" fill="#8a93bd" textLength="31.5" lengthAdjust="spacingAndGlyphs">eiusmod tempor</text>
<text x="1086.2" y="502.5" font-size="4.5" fill="#8a93bd" textLength="42.6" lengthAdjust="spacingAndGlyphs">incididunt ut labore et</text>
<text x="1086.2" y="508.1" font-size="4.5" fill="#8a93bd" textLength="40.0" lengthAdjust="spacingAndGlyphs">dolore magna aliqua.</text>
<rect x="308" y="553.500" width="450" height="204" rx="12" fill="#fff" stroke="#a9aab0" stroke-width="0.9"/>
<rect x="330.3" y="567.3" width="86" height="31" rx="5.7" fill="#fff" stroke="#878eb9" stroke-width="0.9"/>
<rect x="330.3" y="609.6" width="86" height="31" rx="5.7" fill="#fff" stroke="#878eb9" stroke-width="0.9"/>
<path d="M338.4 588.8C343 589.5 346 592 350.100 591.2C353.500 590.5 353.500 585 357.100 584.400C361 583.800 364.500 589 368.800 588.500C373.500 588 374 575.500 378.100 575.500C382.500 575.500 384.500 585.700 389.200 585.700C393.500 585.700 394.500 578.700 398.600 578.700C403 578.700 404.500 589.300 408.700 589.300C409.500 589.300 410 588.900 410.300 588.500" fill="none" stroke="#3f5fe0" stroke-width="1"/>
<path d="M341.2 629.500C345 631 347 635.200 350.900 635.200C357 635.200 358 617 363.100 617C368.500 617 368.500 635.200 374.500 635.200C379 635.200 381.500 630.300 385.900 630.300C390.500 630.300 393 635.200 398.100 635.200C401.500 635.200 404.500 633.800 407.400 633.600" fill="none" stroke="#3f5fe0" stroke-width="1"/>
<circle cx="338.4" cy="588.8" r="2.5" fill="#a9bbf6" opacity="0.85"/><circle cx="338.4" cy="588.8" r="0.8" fill="#2f4fd8"/>
<circle cx="357.1" cy="584.4" r="2.5" fill="#a9bbf6" opacity="0.85"/><circle cx="357.1" cy="584.4" r="0.8" fill="#2f4fd8"/>
<circle cx="378.1" cy="575.5" r="2.5" fill="#a9bbf6" opacity="0.85"/><circle cx="378.1" cy="575.5" r="0.8" fill="#2f4fd8"/>
<circle cx="398.6" cy="578.7" r="2.5" fill="#a9bbf6" opacity="0.85"/><circle cx="398.6" cy="578.7" r="0.8" fill="#2f4fd8"/>
<circle cx="341.2" cy="629.5" r="2.5" fill="#a9bbf6" opacity="0.85"/><circle cx="341.2" cy="629.5" r="0.8" fill="#2f4fd8"/>
<circle cx="363.1" cy="617" r="2.5" fill="#a9bbf6" opacity="0.85"/><circle cx="363.1" cy="617" r="0.8" fill="#2f4fd8"/>
<circle cx="385.9" cy="630.3" r="2.5" fill="#a9bbf6" opacity="0.85"/><circle cx="385.9" cy="630.3" r="0.8" fill="#2f4fd8"/>
<circle cx="407.4" cy="633.6" r="2.5" fill="#a9bbf6" opacity="0.85"/><circle cx="407.4" cy="633.6" r="0.8" fill="#2f4fd8"/>
<text x="430" y="583.9" font-size="11.4" fill="#7784b1" font-weight="700" textLength="78.3" lengthAdjust="spacingAndGlyphs">LOREM IPSUM</text>
<text x="431" y="592.2" font-size="7.4" fill="#7784b1" font-weight="700" textLength="45" lengthAdjust="spacingAndGlyphs">lorem ipsum</text>
<text x="430" y="626.6" font-size="11.4" fill="#7784b1" font-weight="700" textLength="78.3" lengthAdjust="spacingAndGlyphs">LOREM IPSUM</text>
<text x="431" y="634.8" font-size="7.4" fill="#7784b1" font-weight="700" textLength="45" lengthAdjust="spacingAndGlyphs">lorem ipsum</text>
<rect x="574.4" y="572.5" width="55.9" height="19.7" rx="3.5" fill="#fff" stroke="#8a90b8" stroke-width="0.9"/>
<text x="602.3" y="585.6" font-size="9" fill="#f25767" text-anchor="middle" textLength="33.5" lengthAdjust="spacingAndGlyphs" stroke="#f25767" stroke-width="0.25">+34.4%</text>
<rect x="574.4" y="599" width="55.9" height="19.4" rx="3.5" fill="#fff" stroke="#8a90b8" stroke-width="0.9"/>
<text x="602.3" y="612.0" font-size="9" fill="#7a86b0" text-anchor="middle" textLength="33.5" lengthAdjust="spacingAndGlyphs" stroke="#7a86b0" stroke-width="0.25">+34.4%</text>
<rect x="574.4" y="623.7" width="55.9" height="19.7" rx="3.5" fill="#fff" stroke="#8a90b8" stroke-width="0.9"/>
<text x="602.3" y="636.9" font-size="9" fill="#f25767" text-anchor="middle" textLength="33.5" lengthAdjust="spacingAndGlyphs" stroke="#f25767" stroke-width="0.25">+34.4%</text>
<rect x="343.5" y="663.2" width="300.5" height="1" fill="#e4e5e8"/>
<text x="337.5" y="666.2" font-size="6.8" fill="#808184" text-anchor="end">100</text>
<rect x="343.5" y="683.7" width="300.5" height="1" fill="#e4e5e8"/>
<text x="337.5" y="686.7" font-size="6.8" fill="#808184" text-anchor="end">75</text>
<rect x="343.5" y="704.3" width="300.5" height="1" fill="#e4e5e8"/>
<text x="337.5" y="707.3" font-size="6.8" fill="#808184" text-anchor="end">50</text>
<rect x="343.5" y="724.9" width="300.5" height="1" fill="#e4e5e8"/>
<text x="337.5" y="727.9" font-size="6.8" fill="#808184" text-anchor="end">25</text>
<rect x="343.5" y="745.4" width="300.5" height="1" fill="#e4e5e8"/>
<text x="338.7" y="748.4" font-size="6.8" fill="#808184" text-anchor="end">0</text>
<rect x="361.7" y="676.9" width="7.700" height="69.4" rx="3.85" fill="#f45f6b"/>
<rect x="371.2" y="715.1" width="7.700" height="31.2" rx="3.85" fill="#3263e3"/>
<rect x="397.8" y="676.9" width="7.700" height="69.4" rx="3.85" fill="#f45f6b"/>
<rect x="407.3" y="696.1" width="7.700" height="50.2" rx="3.85" fill="#3263e3"/>
<rect x="433.7" y="704" width="7.700" height="42.3" rx="3.85" fill="#f45f6b"/>
<rect x="443.2" y="723.8" width="7.700" height="22.5" rx="3.85" fill="#3263e3"/>
<rect x="472.5" y="666.3" width="7.700" height="80.0" rx="3.85" fill="#f45f6b"/>
<rect x="482" y="723.8" width="7.700" height="22.5" rx="3.85" fill="#3263e3"/>
<rect x="508.1" y="666.3" width="7.700" height="80.0" rx="3.85" fill="#f45f6b"/>
<rect x="517.8" y="684" width="7.700" height="62.3" rx="3.85" fill="#3263e3"/>
<rect x="545.3" y="666.3" width="7.700" height="80.0" rx="3.85" fill="#f45f6b"/>
<rect x="554.8" y="670" width="7.700" height="76.3" rx="3.85" fill="#3263e3"/>
<rect x="581.7" y="676.9" width="7.700" height="69.4" rx="3.85" fill="#f45f6b"/>
<rect x="591.2" y="715.1" width="7.700" height="31.2" rx="3.85" fill="#3263e3"/>
<rect x="618.1" y="676.9" width="7.700" height="69.4" rx="3.85" fill="#f45f6b"/>
<rect x="627.6" y="696.1" width="7.700" height="50.2" rx="3.85" fill="#3263e3"/>
<circle cx="669.1" cy="584.2" r="8.6" fill="#fff" stroke="#71769c" stroke-width="1"/>
<circle cx="668.6" cy="649.8" r="10.1" fill="#a9a9b4" opacity="0.45" filter="url(#s1c)"/>
<circle cx="669.1" cy="645.8" r="8.6" fill="#fff" stroke="#757a92" stroke-width="0.9"/>
<circle cx="669.1" cy="645.8" r="7.0" fill="#f45f6b"/>
<circle cx="669.1" cy="706.5" r="8.6" fill="#fff" stroke="#71769c" stroke-width="1"/>
<text x="686.9" y="590.02" font-size="18.5" fill="#7f8ab4" textLength="18.3" lengthAdjust="spacingAndGlyphs">01</text>
<text x="706.2" y="580.0" font-size="4.5" fill="#8a93bd" textLength="25.5" lengthAdjust="spacingAndGlyphs">Lorem ipsum</text>
<text x="706.2" y="585.7" font-size="4.5" fill="#8a93bd" textLength="27.8" lengthAdjust="spacingAndGlyphs">dolor sit amet,</text>
<text x="706.2" y="591.3" font-size="4.5" fill="#8a93bd" textLength="22.8" lengthAdjust="spacingAndGlyphs">consectetur</text>
<text x="686.1" y="596.9" font-size="4.5" fill="#8a93bd" textLength="41.8" lengthAdjust="spacingAndGlyphs">adipiscing elit, sed do</text>
<text x="686.1" y="602.5" font-size="4.5" fill="#8a93bd" textLength="31.5" lengthAdjust="spacingAndGlyphs">eiusmod tempor</text>
<text x="686.1" y="608.1" font-size="4.5" fill="#8a93bd" textLength="42.6" lengthAdjust="spacingAndGlyphs">incididunt ut labore et</text>
<text x="686.1" y="613.8" font-size="4.5" fill="#8a93bd" textLength="40.0" lengthAdjust="spacingAndGlyphs">dolore magna aliqua.</text>
<text x="686.9" y="651.72" font-size="18.5" fill="#7f8ab4" textLength="18.3" lengthAdjust="spacingAndGlyphs">01</text>
<text x="706.2" y="641.7" font-size="4.5" fill="#8a93bd" textLength="25.5" lengthAdjust="spacingAndGlyphs">Lorem ipsum</text>
<text x="706.2" y="647.4" font-size="4.5" fill="#8a93bd" textLength="27.8" lengthAdjust="spacingAndGlyphs">dolor sit amet,</text>
<text x="706.2" y="653.0" font-size="4.5" fill="#8a93bd" textLength="22.8" lengthAdjust="spacingAndGlyphs">consectetur</text>
<text x="686.1" y="658.6" font-size="4.5" fill="#8a93bd" textLength="41.8" lengthAdjust="spacingAndGlyphs">adipiscing elit, sed do</text>
<text x="686.1" y="664.2" font-size="4.5" fill="#8a93bd" textLength="31.5" lengthAdjust="spacingAndGlyphs">eiusmod tempor</text>
<text x="686.1" y="669.8" font-size="4.5" fill="#8a93bd" textLength="42.6" lengthAdjust="spacingAndGlyphs">incididunt ut labore et</text>
<text x="686.1" y="675.5" font-size="4.5" fill="#8a93bd" textLength="40.0" lengthAdjust="spacingAndGlyphs">dolore magna aliqua.</text>
<text x="686.9" y="712.42" font-size="18.5" fill="#7f8ab4" textLength="18.3" lengthAdjust="spacingAndGlyphs">01</text>
<text x="706.2" y="702.4" font-size="4.5" fill="#8a93bd" textLength="25.5" lengthAdjust="spacingAndGlyphs">Lorem ipsum</text>
<text x="706.2" y="708.1" font-size="4.5" fill="#8a93bd" textLength="27.8" lengthAdjust="spacingAndGlyphs">dolor sit amet,</text>
<text x="706.2" y="713.7" font-size="4.5" fill="#8a93bd" textLength="22.8" lengthAdjust="spacingAndGlyphs">consectetur</text>
<text x="686.1" y="719.3" font-size="4.5" fill="#8a93bd" textLength="41.8" lengthAdjust="spacingAndGlyphs">adipiscing elit, sed do</text>
<text x="686.1" y="724.9" font-size="4.5" fill="#8a93bd" textLength="31.5" lengthAdjust="spacingAndGlyphs">eiusmod tempor</text>
<text x="686.1" y="730.5" font-size="4.5" fill="#8a93bd" textLength="42.6" lengthAdjust="spacingAndGlyphs">incididunt ut labore et</text>
<text x="686.1" y="736.2" font-size="4.5" fill="#8a93bd" textLength="40.0" lengthAdjust="spacingAndGlyphs">dolore magna aliqua.</text>
<text x="793.4" y="572.2" font-size="9.5" fill="#3c4c7c" textLength="42.3" lengthAdjust="spacingAndGlyphs" stroke="#3c4c7c" stroke-width="0.35">Expenses</text>
<text x="975.5" y="572.2" font-size="9.5" fill="#3c4c7c" textLength="38.5" lengthAdjust="spacingAndGlyphs" stroke="#3c4c7c" stroke-width="0.35">Revenue</text>
<path d="M879.86 585.74A77.5 77.5 0 0 1 942.13 642.40L930.24 645.54A65.2 65.2 0 0 0 877.85 597.88Z" fill="#3565e6"/>
<path d="M943.68 649.68A77.5 77.5 0 0 1 942.50 680.55L930.55 677.64A65.2 65.2 0 0 0 931.54 651.66Z" fill="#f7616b"/>
<path d="M940.21 688.20A77.5 77.5 0 0 1 924.43 714.46L915.35 706.16A65.2 65.2 0 0 0 928.62 684.07Z" fill="#f7616b"/>
<path d="M919.46 719.43A77.5 77.5 0 0 1 862.20 739.54L862.99 727.26A65.2 65.2 0 0 0 911.16 710.35Z" fill="#f7616b"/>
<path d="M854.54 738.66A77.5 77.5 0 0 1 792.17 681.60L804.08 678.52A65.2 65.2 0 0 0 856.55 726.52Z" fill="#3565e6"/>
<path d="M790.79 675.12A77.5 77.5 0 0 1 792.34 642.14L804.22 645.32A65.2 65.2 0 0 0 802.91 673.07Z" fill="#f7616b"/>
<path d="M794.66 634.93A77.5 77.5 0 0 1 809.97 609.94L819.05 618.24A65.2 65.2 0 0 0 806.17 639.26Z" fill="#3565e6"/>
<path d="M814.64 605.24A77.5 77.5 0 0 1 873.28 584.94L872.32 597.20A65.2 65.2 0 0 0 822.98 614.28Z" fill="#3565e6"/>
<text x="868.9" y="669.8" font-size="23.5" fill="#2b2d38" font-weight="700" text-anchor="middle" textLength="88" lengthAdjust="spacingAndGlyphs">21.424$</text>
<text x="850.5" y="687.4" font-size="11.4" fill="#9196ad" textLength="27" lengthAdjust="spacingAndGlyphs" font-family="Liberation Serif">+3.44</text>
<text x="850.5" y="699" font-size="11.4" fill="#9196ad" textLength="37" lengthAdjust="spacingAndGlyphs" font-family="Liberation Serif">+1.88%</text>
<path d="M1013.30 599.36A75.7 75.7 0 0 1 1102.30 599.36L1086.95 620.47A49.6 49.6 0 0 0 1028.65 620.47Z" fill="#2f6eb5" stroke="#fff" stroke-opacity="0.35" stroke-width="0.5"/>
<path d="M1102.30 599.36A75.7 75.7 0 0 1 1129.79 683.99L1104.97 675.93A49.6 49.6 0 0 0 1086.95 620.47Z" fill="#3ca7fb" stroke="#fff" stroke-opacity="0.35" stroke-width="0.5"/>
<path d="M1129.79 683.99A75.7 75.7 0 0 1 1057.80 736.30L1057.80 710.20A49.6 49.6 0 0 0 1104.97 675.93Z" fill="#fdc42f" stroke="#fff" stroke-opacity="0.35" stroke-width="0.5"/>
<path d="M1057.80 736.30A75.7 75.7 0 0 1 985.81 683.99L1010.63 675.93A49.6 49.6 0 0 0 1057.80 710.20Z" fill="#fb8d8d" stroke="#fff" stroke-opacity="0.35" stroke-width="0.5"/>
<path d="M985.81 683.99A75.7 75.7 0 0 1 1013.30 599.36L1028.65 620.47A49.6 49.6 0 0 0 1010.63 675.93Z" fill="#62b36e" stroke="#fff" stroke-opacity="0.35" stroke-width="0.5"/>
<path d="M985.81 683.99A75.7 75.7 0 1 1 1129.79 683.99L1104.97 675.93A49.6 49.6 0 1 0 1010.63 675.93Z" fill="url(#shade)"/>
<text x="1059.2" y="663.8" font-size="16.5" fill="#26272b" text-anchor="middle" textLength="28.5" lengthAdjust="spacingAndGlyphs" stroke="#26272b" stroke-width="0.3">940</text>
<text x="1059.2" y="673.9" font-size="8.2" fill="#a0a1a3" text-anchor="middle" textLength="32.5" lengthAdjust="spacingAndGlyphs">February</text>
</svg></body></html>
